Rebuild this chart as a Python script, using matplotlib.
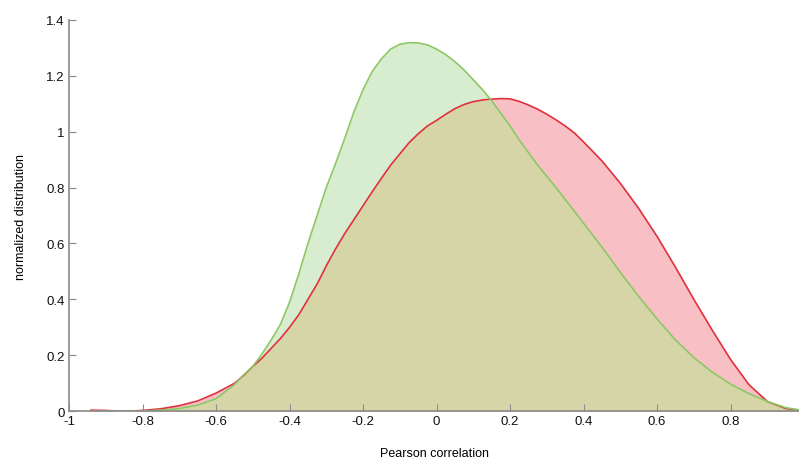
import matplotlib.pyplot as plt
import numpy as np

plt.rcParams['font.family'] = ['Liberation Sans', 'DejaVu Sans']

# correlation grid
corr = [-0.94, -0.9, -0.85, -0.8, -0.75, -0.7, -0.65, -0.6, -0.55, -0.525,
        -0.5, -0.475, -0.45, -0.425, -0.4, -0.375, -0.35, -0.325, -0.3, -0.275,
        -0.25, -0.225, -0.2, -0.175, -0.15, -0.125, -0.1, -0.075, -0.05, -0.025,
        0.0, 0.025, 0.05, 0.075, 0.1, 0.125, 0.15, 0.175, 0.2, 0.225,
        0.25, 0.275, 0.3, 0.325, 0.35, 0.375, 0.4, 0.45, 0.5, 0.55,
        0.6, 0.65, 0.7, 0.75, 0.8, 0.85, 0.9, 0.95, 0.986]

green_vals = [0.0, 0.0, 0.0, 0.001, 0.004, 0.010, 0.022, 0.045, 0.095, 0.13,
              0.16, 0.205, 0.255, 0.31, 0.39, 0.49, 0.60, 0.70, 0.80, 0.885,
              0.975, 1.07, 1.15, 1.215, 1.26, 1.295, 1.312, 1.318, 1.317, 1.31,
              1.295, 1.275, 1.25, 1.22, 1.185, 1.15, 1.11, 1.065, 1.02, 0.97,
              0.925, 0.88, 0.84, 0.80, 0.757, 0.715, 0.672, 0.587, 0.497, 0.41,
              0.33, 0.255, 0.192, 0.14, 0.097, 0.063, 0.035, 0.013, 0.005]

red_vals = [0.004, 0.003, 0.0, 0.003, 0.009, 0.02, 0.037, 0.065, 0.10, 0.128,
            0.16, 0.19, 0.225, 0.26, 0.30, 0.345, 0.40, 0.455, 0.52, 0.58,
            0.635, 0.685, 0.735, 0.785, 0.833, 0.88, 0.92, 0.96, 0.992, 1.02,
            1.04, 1.062, 1.082, 1.097, 1.107, 1.113, 1.116, 1.118, 1.117, 1.108,
            1.095, 1.08, 1.062, 1.042, 1.02, 0.995, 0.963, 0.895, 0.815, 0.725,
            0.625, 0.515, 0.40, 0.29, 0.185, 0.095, 0.035, 0.01, 0.004]

x = np.array(corr)
g = np.array(green_vals)
r = np.array(red_vals)

fig = plt.figure(figsize=(7.99, 4.64), dpi=100)
ax = fig.add_axes([69 / 799, 51.7 / 464, 1 - 69 / 799, 391.6 / 464])

# fills: red only, green only, overlap
ax.fill_between(x, 0, r, color='#f8c0c4', lw=0)
ax.fill_between(x, 0, g, color='#d8ecd0', lw=0)
ax.fill_between(x, 0, np.minimum(r, g), color='#d6d5a8', lw=0)
ax.plot(x, r, color='#e0303c', lw=1.2)
ax.plot(x, g, color='#8cc864', lw=1.2)

ax.set_xlim(-1, 0.986)
ax.set_ylim(0, 1.4)
ax.set_xticks([-1, -0.8, -0.6, -0.4, -0.2, 0, 0.2, 0.4, 0.6, 0.8])
ax.set_xticklabels(['-1', '-0.8', '-0.6', '-0.4', '-0.2', '0', '0.2', '0.4', '0.6', '0.8'])
ax.set_yticks([0, 0.2, 0.4, 0.6, 0.8, 1, 1.2, 1.4])
ax.set_yticklabels(['0', '0.2', '0.4', '0.6', '0.8', '1', '1.2', '1.4'])

for s in ['top', 'right']:
    ax.spines[s].set_visible(False)
for s in ['left', 'bottom']:
    ax.spines[s].set_color('#8a8a8a')
    ax.spines[s].set_linewidth(1.2)
ax.tick_params(direction='in', length=5, color='#8a8a8a', labelsize=9.5,
               labelcolor='#111111', pad=3)

ax.set_xlabel('Pearson correlation', fontsize=9, labelpad=14)
ax.set_ylabel('normalized distribution', fontsize=9, labelpad=14)

fig.savefig('out.png', dpi=100)
